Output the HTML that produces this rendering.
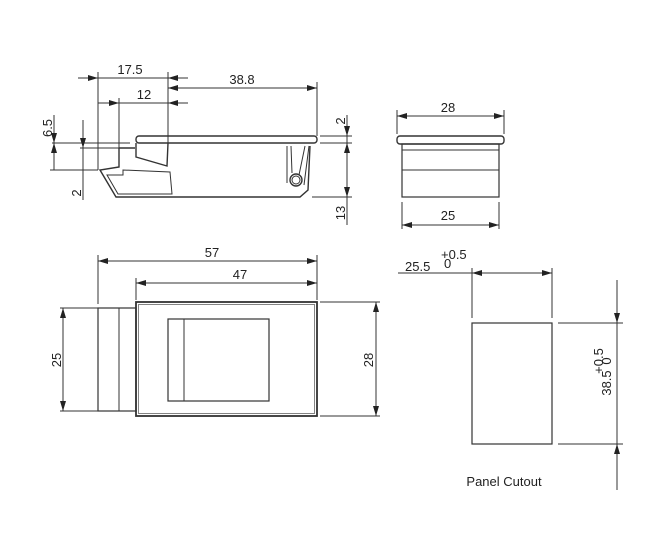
<!DOCTYPE html>
<html><head><meta charset="utf-8"><style>
html,body{margin:0;padding:0;background:#fff;width:650px;height:553px;overflow:hidden}
svg{display:block}
text{font-family:"Liberation Sans","DejaVu Sans",sans-serif;fill:#222;font-size:13px}
</style></head><body>
<svg width="650" height="553" viewBox="0 0 650 553" xmlns="http://www.w3.org/2000/svg">
<defs>
<marker id="a" viewBox="0 0 10 6" refX="10" refY="3" markerWidth="10" markerHeight="6" markerUnits="userSpaceOnUse" orient="auto-start-reverse"><path d="M0,0 L10,3 L0,6z" fill="#222"/></marker>
</defs>
<g stroke="#333" stroke-width="1" fill="none">
<line x1="98" y1="72" x2="98" y2="170"/>
<line x1="168" y1="72" x2="168" y2="143"/>
<line x1="317" y1="82" x2="317" y2="136"/>
<line x1="119" y1="98" x2="119" y2="148"/>
<line x1="78" y1="78" x2="98" y2="78" marker-end="url(#a)"/>
<line x1="98" y1="78" x2="168" y2="78"/>
<line x1="188" y1="78" x2="168" y2="78" marker-end="url(#a)"/>
<line x1="168" y1="88" x2="317" y2="88" marker-start="url(#a)" marker-end="url(#a)"/>
<line x1="98" y1="103" x2="119" y2="103"/>
<line x1="104" y1="103" x2="119" y2="103" marker-end="url(#a)"/>
<line x1="119" y1="103" x2="168" y2="103"/>
<line x1="188" y1="103" x2="168" y2="103" marker-end="url(#a)"/>
<rect x="136" y="136" width="181" height="7" rx="3" stroke-width="1.4"/>
<line x1="52" y1="143" x2="130" y2="143"/>
<line x1="320" y1="136" x2="352" y2="136"/>
<line x1="320" y1="143" x2="352" y2="143"/>
<line x1="312" y1="197" x2="352" y2="197"/>
<line x1="80" y1="148" x2="119" y2="148"/>
<path d="M136,143 L136,157 L167,166 L168,143 M119,148 L135,148 M119,148 L119,167 L100,170 L116,197 L300,197 L308,190 L310,146" stroke-width="1.4"/>
<path d="M107,175 L123,175 L123,170 L170,172 L172,194 L118,194 Z"/>
<path d="M287,146 L287,183 M291,146 L292,173 M305,146 L299,175 M309,146 L304,185"/>
<circle cx="296" cy="180" r="6" stroke-width="1.4"/>
<circle cx="296" cy="180" r="4"/>
<line x1="347" y1="115" x2="347" y2="136" marker-end="url(#a)"/>
<line x1="347" y1="136" x2="347" y2="143"/>
<line x1="347" y1="143" x2="347" y2="197" marker-start="url(#a)" marker-end="url(#a)"/>
<line x1="347" y1="197" x2="347" y2="225"/>
<line x1="54" y1="115" x2="54" y2="143" marker-end="url(#a)"/>
<line x1="54" y1="143" x2="54" y2="170" marker-start="url(#a)"/>
<line x1="50" y1="170" x2="98" y2="170"/>
<line x1="83" y1="120" x2="83" y2="148" marker-end="url(#a)"/>
<line x1="83" y1="148" x2="83" y2="200"/>
<line x1="397" y1="110" x2="397" y2="134"/>
<line x1="504" y1="110" x2="504" y2="134"/>
<line x1="397" y1="116" x2="504" y2="116" marker-start="url(#a)" marker-end="url(#a)"/>
<rect x="397" y="136" width="107" height="8" rx="3" stroke-width="1.4"/>
<rect x="402" y="144" width="97" height="53" stroke-width="1.2"/>
<line x1="402" y1="150" x2="499" y2="150"/>
<line x1="402" y1="170" x2="499" y2="170"/>
<line x1="402" y1="202" x2="402" y2="229"/>
<line x1="499" y1="202" x2="499" y2="229"/>
<line x1="402" y1="225" x2="499" y2="225" marker-start="url(#a)" marker-end="url(#a)"/>
<line x1="398" y1="273" x2="472" y2="273"/>
<line x1="472" y1="273" x2="552" y2="273" marker-start="url(#a)" marker-end="url(#a)"/>
<line x1="472" y1="268" x2="472" y2="318"/>
<line x1="552" y1="268" x2="552" y2="318"/>
<rect x="472" y="323" width="80" height="121" stroke-width="1.2"/>
<line x1="558" y1="323" x2="623" y2="323"/>
<line x1="558" y1="444" x2="623" y2="444"/>
<line x1="617" y1="280" x2="617" y2="323" marker-end="url(#a)"/>
<line x1="617" y1="323" x2="617" y2="444"/>
<line x1="617" y1="490" x2="617" y2="444" marker-end="url(#a)"/>
<line x1="98" y1="255" x2="98" y2="304"/>
<line x1="317" y1="255" x2="317" y2="300"/>
<line x1="136" y1="278" x2="136" y2="300"/>
<line x1="98" y1="261" x2="317" y2="261" marker-start="url(#a)" marker-end="url(#a)"/>
<line x1="136" y1="283" x2="317" y2="283" marker-start="url(#a)" marker-end="url(#a)"/>
<rect x="136" y="302" width="181" height="114" stroke-width="1.8"/>
<rect x="138.5" y="304.5" width="176" height="109" stroke-width="0.6"/>
<rect x="98" y="308" width="38" height="103" stroke-width="1.2"/>
<line x1="119" y1="308" x2="119" y2="411"/>
<rect x="168" y="319" width="101" height="82" stroke-width="1.2"/>
<line x1="184" y1="319" x2="184" y2="401"/>
<line x1="60" y1="308" x2="98" y2="308"/>
<line x1="60" y1="411" x2="98" y2="411"/>
<line x1="63" y1="308" x2="63" y2="411" marker-start="url(#a)" marker-end="url(#a)"/>
<line x1="320" y1="302" x2="380" y2="302"/>
<line x1="320" y1="416" x2="380" y2="416"/>
<line x1="376" y1="302" x2="376" y2="416" marker-start="url(#a)" marker-end="url(#a)"/>
</g>
<g>
<text x="130" y="74" text-anchor="middle">17.5</text>
<text x="242" y="84" text-anchor="middle">38.8</text>
<text x="144" y="99" text-anchor="middle">12</text>
<text transform="translate(345,121) rotate(-90)" text-anchor="middle">2</text>
<text transform="translate(345,213) rotate(-90)" text-anchor="middle">13</text>
<text transform="translate(52,128) rotate(-90)" text-anchor="middle">6.5</text>
<text transform="translate(81,193) rotate(-90)" text-anchor="middle">2</text>
<text x="448" y="112" text-anchor="middle">28</text>
<text x="448" y="220" text-anchor="middle">25</text>
<text x="405" y="271" font-size="15">25.5</text>
<text x="441" y="259" font-size="8">+0.5</text>
<text x="444" y="268" font-size="8">0</text>
<text transform="translate(611,383) rotate(-90)" text-anchor="middle" font-size="15">38.5</text>
<text transform="translate(603,361) rotate(-90)" text-anchor="middle" font-size="8">+0.5</text>
<text transform="translate(611,361) rotate(-90)" text-anchor="middle" font-size="8">0</text>
<text x="504" y="486" text-anchor="middle" font-size="14">Panel Cutout</text>
<text x="212" y="257" text-anchor="middle">57</text>
<text x="240" y="279" text-anchor="middle">47</text>
<text transform="translate(61,360) rotate(-90)" text-anchor="middle">25</text>
<text transform="translate(373,360) rotate(-90)" text-anchor="middle">28</text>
</g>
</svg>
</body></html>
